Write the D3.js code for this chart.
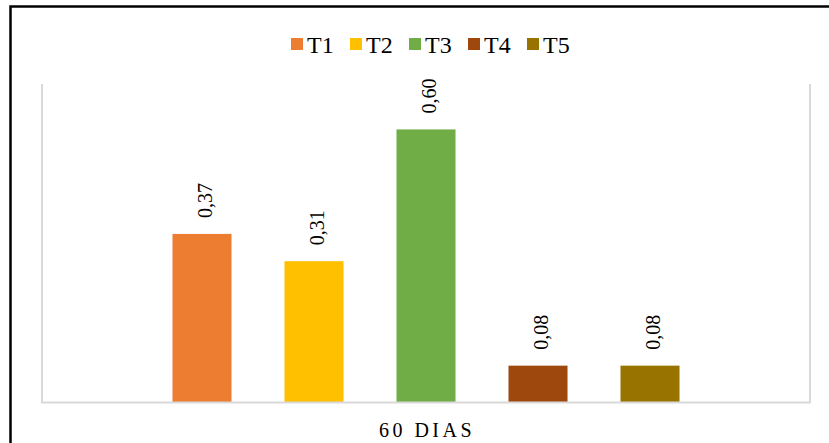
<!DOCTYPE html>
<html>
<head>
<meta charset="utf-8">
<script src="https://cdn.jsdelivr.net/npm/d3@7"></script>
<style>
  html, body { margin: 0; padding: 0; background: #fff; }
  svg { display: block; }
  text { font-family: "Liberation Serif", "Times New Roman", serif; fill: #000; }
</style>
</head>
<body>
<svg id="chart" width="829" height="443"></svg>
<script>
// Data
const categories = ["60 DIAS"];
const seriesNames = ["T1", "T2", "T3", "T4", "T5"];
const seriesValues = [0.37, 0.31, 0.60, 0.08, 0.08];
const valueLabels = ["0,37", "0,31", "0,60", "0,08", "0,08"];
const seriesColors = ["#ED7D31", "#FFC000", "#70AD47", "#9E480E", "#997300"];

const svg = d3.select("#chart");
const W = 829, H = 443;

// Outer chart frame
svg.append("rect")
  .attr("x", 10.5).attr("y", 6.5)
  .attr("width", W + 20).attr("height", H + 20)
  .attr("fill", "#fff")
  .attr("stroke", "#000")
  .attr("stroke-width", 2.5);

const plot = { left: 42, right: 810, top: 84, bottom: 402 };

const y = d3.scaleLinear().domain([0, 0.7]).range([plot.bottom, plot.top]);

const x0 = d3.scaleBand().domain(categories).range([plot.left, plot.right]).padding(0);
const x1 = d3.scaleBand().domain(seriesNames)
  .range([0, x0.bandwidth()])
  .paddingInner(0.473)
  .paddingOuter(1.165);

// Plot-area frame (left and right edges)
const frameColor = "#d9d9d9";
svg.append("line")
  .attr("x1", plot.left).attr("x2", plot.left)
  .attr("y1", plot.top).attr("y2", plot.bottom)
  .attr("stroke", frameColor).attr("stroke-width", 2);
svg.append("line")
  .attr("x1", plot.right).attr("x2", plot.right)
  .attr("y1", plot.top).attr("y2", plot.bottom)
  .attr("stroke", frameColor).attr("stroke-width", 2);

// Bars
const g = svg.append("g").attr("transform", `translate(${x0(categories[0])},0)`);
g.selectAll("rect.bar")
  .data(seriesNames)
  .enter().append("rect")
  .attr("class", "bar")
  .attr("x", d => x1(d))
  .attr("y", (d, i) => y(seriesValues[i]))
  .attr("width", x1.bandwidth())
  .attr("height", (d, i) => y(0) - y(seriesValues[i]))
  .attr("fill", (d, i) => seriesColors[i]);

// Value labels, rotated
g.selectAll("text.val")
  .data(seriesNames)
  .enter().append("text")
  .attr("class", "val")
  .attr("transform", (d, i) =>
    `translate(${x1(d) + x1.bandwidth() / 2 + 10},${y(seriesValues[i]) - 16}) rotate(-90)`)
  .attr("font-size", 20)
  .attr("text-anchor", "start")
  .text((d, i) => valueLabels[i]);

// Baseline axis
svg.append("line")
  .attr("x1", plot.left - 1).attr("x2", plot.right + 1)
  .attr("y1", plot.bottom + 0.5).attr("y2", plot.bottom + 0.5)
  .attr("stroke", frameColor).attr("stroke-width", 2);

// Category label
svg.append("text")
  .attr("x", x0(categories[0]) + x0.bandwidth() / 2 + 1)
  .attr("y", 437)
  .attr("text-anchor", "middle")
  .attr("font-size", 20)
  .attr("letter-spacing", 3.5)
  .text(categories[0]);

// Legend
const legend = svg.append("g").attr("transform", "translate(291,0)");
const item = legend.selectAll("g.item")
  .data(seriesNames)
  .enter().append("g")
  .attr("class", "item")
  .attr("transform", (d, i) => `translate(${i * 59},0)`);
item.append("rect")
  .attr("x", 0).attr("y", 38)
  .attr("width", 12).attr("height", 12)
  .attr("fill", (d, i) => seriesColors[i]);
item.append("text")
  .attr("x", 16).attr("y", 53)
  .attr("font-size", 24)
  .text(d => d);
</script>
</body>
</html>
